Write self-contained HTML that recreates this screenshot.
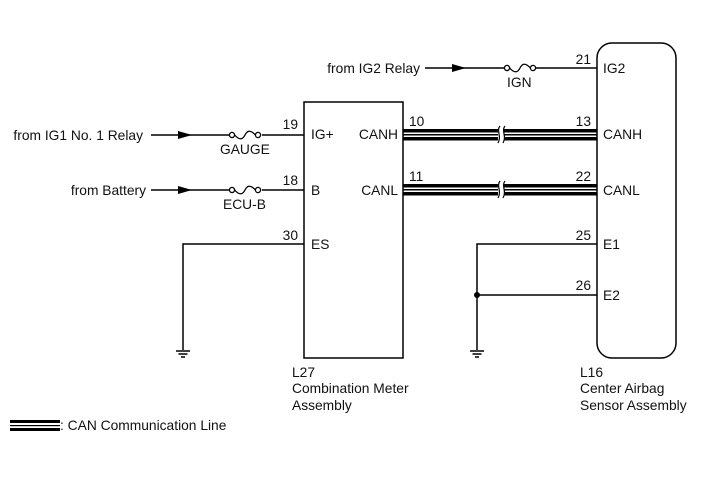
<!DOCTYPE html>
<html><head><style>
html,body{margin:0;padding:0;background:#fff;}
svg{display:block;}
text{font-family:"Liberation Sans",Arial,sans-serif;font-size:13.8px;fill:#111;}
.e{text-anchor:end;}
</style></head><body>
<svg width="713" height="481" viewBox="0 0 713 481" xmlns="http://www.w3.org/2000/svg">
<defs>
<g id="fuse"><circle cx="0" cy="0" r="2.6" fill="#fff" stroke="#000" stroke-width="1.3"/><circle cx="26" cy="0" r="2.6" fill="#fff" stroke="#000" stroke-width="1.3"/><path d="M2.6 0 C8 6 11 4 13 0 C15 -4 18 -6 23.4 0" fill="none" stroke="#000" stroke-width="1.3"/></g>
<g id="gnd"><line x1="-7" y1="0" x2="7" y2="0" stroke="#000" stroke-width="1.5"/><line x1="-4.5" y1="3" x2="4.5" y2="3" stroke="#000" stroke-width="1.5"/><line x1="-2" y1="6" x2="2" y2="6" stroke="#000" stroke-width="1.5"/></g>
</defs>
<g stroke="#000" stroke-width="1.5" fill="none">
<rect x="304" y="102" width="99" height="256"/>
<rect x="597" y="43" width="79" height="315" rx="15"/>
<line x1="425" y1="68" x2="505" y2="68"/><line x1="531" y1="68" x2="597" y2="68"/>
<line x1="151" y1="135" x2="230" y2="135"/><line x1="262" y1="135" x2="304" y2="135"/>
<line x1="151" y1="190" x2="230" y2="190"/><line x1="262" y1="190" x2="304" y2="190"/>
<polyline points="304,244 183,244 183,350"/>
<polyline points="597,244 477,244 477,350"/>
<line x1="477" y1="295" x2="597" y2="295"/>
</g>
<polygon points="178,131 192,135 178,139" fill="#000"/>
<polygon points="178,186 192,190 178,194" fill="#000"/>
<polygon points="452,64 466,68 452,72" fill="#000"/>
<use href="#fuse" x="232" y="135"/>
<use href="#fuse" x="232" y="190"/>
<use href="#fuse" x="507" y="68"/>
<use href="#gnd" x="183" y="351"/>
<use href="#gnd" x="477" y="351"/>
<circle cx="477" cy="295" r="3" fill="#000"/>
<g fill="#000">
<rect x="403" y="129" width="95" height="3.5"/><rect x="403" y="134" width="95" height="1.5"/><rect x="403" y="137" width="95" height="3.5"/>
<rect x="504" y="129" width="93" height="3.5"/><rect x="504" y="134" width="93" height="1.5"/><rect x="504" y="137" width="93" height="3.5"/>
<rect x="403" y="184" width="95" height="3.5"/><rect x="403" y="189" width="95" height="1.5"/><rect x="403" y="192" width="95" height="3.5"/>
<rect x="504" y="184" width="93" height="3.5"/><rect x="504" y="189" width="93" height="1.5"/><rect x="504" y="192" width="93" height="3.5"/>
<rect x="10" y="420" width="50" height="3"/><rect x="10" y="425" width="50" height="1.2"/><rect x="10" y="428" width="50" height="3"/>
</g>
<g stroke="#000" stroke-width="1.2" fill="none">
<path d="M500 126 C496 131 502 136 498 143"/><path d="M505 126 C501 131 507 136 503 143"/>
<path d="M500 181 C496 186 502 191 498 198"/><path d="M505 181 C501 186 507 191 503 198"/>
</g>
<text class="e" x="143" y="140">from IG1 No. 1 Relay</text>
<text class="e" x="146" y="195">from Battery</text>
<text class="e" x="420" y="73">from IG2 Relay</text>
<text x="220" y="154">GAUGE</text>
<text x="223" y="209">ECU-B</text>
<text x="507" y="87">IGN</text>
<text class="e" x="298" y="129">19</text>
<text class="e" x="298" y="185">18</text>
<text class="e" x="298" y="240">30</text>
<text x="311" y="139">IG+</text>
<text x="311" y="195">B</text>
<text x="311" y="249">ES</text>
<text class="e" x="398" y="139">CANH</text>
<text class="e" x="398" y="195">CANL</text>
<text x="409" y="126">10</text>
<text x="409" y="181">11</text>
<text class="e" x="591" y="64">21</text>
<text class="e" x="591" y="126">13</text>
<text class="e" x="591" y="181">22</text>
<text class="e" x="591" y="240">25</text>
<text class="e" x="591" y="290">26</text>
<text x="603" y="73">IG2</text>
<text x="603" y="139">CANH</text>
<text x="603" y="195">CANL</text>
<text x="603" y="249">E1</text>
<text x="603" y="300">E2</text>
<text x="292" y="377">L27</text>
<text x="292" y="393">Combination Meter</text>
<text x="292" y="410">Assembly</text>
<text x="580" y="377">L16</text>
<text x="580" y="393">Center Airbag</text>
<text x="580" y="410">Sensor Assembly</text>
<text x="60" y="430">: CAN Communication Line</text>
</svg>
</body></html>
